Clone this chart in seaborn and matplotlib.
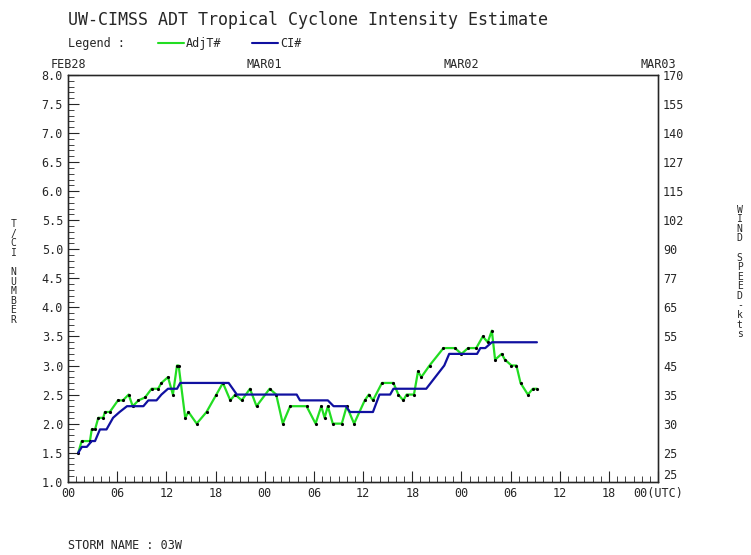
import matplotlib
matplotlib.use("Agg")
import matplotlib.pyplot as plt
import seaborn as sns
import pandas as pd
import numpy as np
from matplotlib.ticker import MultipleLocator

sns.set_style("white")
plt.rcParams['font.family'] = ['DejaVu Sans Mono']

adj_t = [1.26,1.67,2.68,2.9,3.3,3.7,4.3,4.5,5.1,6.1,6.7,7.4,7.9,8.6,9.4,10.2,11,11.4,12.2,12.8,13.3,13.5,14.3,14.7,15.7,16.9,18.1,18.9,19.8,20.4,21.2,22.2,23,24.6,25.4,26.2,27.1,29.1,30.2,30.9,31.3,31.7,32.3,33.4,34,34.9,36.2,36.7,37.2,38.3,39.7,40.3,40.9,41.3,42.2,42.7,43.1,44.1,45.8,47.2,48,48.8,49.8,50.6,51.2,51.7,52.1,52.9,53.3,54.1,54.7,55.2,56.1,56.7,57.2]
adj_v = [1.5,1.7,1.7,1.9,1.9,2.1,2.1,2.2,2.2,2.4,2.4,2.5,2.3,2.4,2.45,2.6,2.6,2.7,2.8,2.5,3.0,3.0,2.1,2.2,2.0,2.2,2.5,2.7,2.4,2.5,2.4,2.6,2.3,2.6,2.5,2.0,2.3,2.3,2.0,2.3,2.1,2.3,2.0,2.0,2.3,2.0,2.4,2.5,2.4,2.7,2.7,2.5,2.4,2.5,2.5,2.9,2.8,3.0,3.3,3.3,3.2,3.3,3.3,3.5,3.4,3.6,3.1,3.2,3.1,3.0,3.0,2.7,2.5,2.6,2.6]
ci_t = [1.26,1.7,2.3,2.9,3.3,3.9,4.7,5.5,6.3,7.2,9.2,9.8,10.8,11.4,12.2,13.3,13.7,19.6,20.6,27.9,28.3,31.7,32.4,33.9,34.4,37.2,38.0,39.3,39.7,43.7,45.9,46.5,49.9,50.3,50.9,51.7,57.2]
ci_v = [1.5,1.6,1.6,1.7,1.7,1.9,1.9,2.1,2.2,2.3,2.3,2.4,2.4,2.5,2.6,2.6,2.7,2.7,2.5,2.5,2.4,2.4,2.3,2.3,2.2,2.2,2.5,2.5,2.6,2.6,3.0,3.2,3.2,3.3,3.3,3.4,3.4]

y_ticks = [1.0,1.5,2.0,2.5,3.0,3.5,4.0,4.5,5.0,5.5,6.0,6.5,7.0,7.5,8.0]
kts_labels = ["25","25","30","35","45","55","65","77","90","102","115","127","140","155","170"]
x_ticks = list(range(0, 73, 6))
x_labels = ["00","06","12","18","00","06","12","18","00","06","12","18","00(UTC)"]
day_ticks = [0, 24, 48, 72]
day_labels = ["FEB28","MAR01","MAR02","MAR03"]

fig = plt.figure(figsize=(7.51, 5.55), dpi=100)
ax = fig.add_axes([0.0905, 0.132, 0.786, 0.733])
sns.lineplot(x=adj_t, y=adj_v, ax=ax, color="#22dd22", lw=1.6, sort=False,
             marker="o", markersize=1.5, markerfacecolor="black", markeredgecolor="black")
sns.lineplot(x=ci_t, y=ci_v, ax=ax, color="#1010a0", lw=1.6, sort=False)
ax.set_xlim(0, 72)
ax.set_ylim(1.0, 8.0)
ax.set_yticks(y_ticks)
ax.set_yticklabels([f"{v:.1f}" for v in y_ticks], fontsize=8.5)
ax.yaxis.set_minor_locator(MultipleLocator(0.1))
ax.set_xticks(x_ticks)
ax.set_xticklabels(x_labels, fontsize=8.5)
ax.xaxis.set_minor_locator(MultipleLocator(1))
ax.tick_params(which="both", direction="in", top=True, right=True, length=8)
ax.tick_params(which="minor", length=4)
for s in ax.spines.values():
    s.set_color("black"); s.set_linewidth(1)
ax2 = ax.twinx()
ax2.set_ylim(1.0, 8.0)
ax2.set_yticks(y_ticks)
ax2.set_yticklabels(kts_labels, fontsize=8.5)
ax2.tick_params(direction="in", length=0)
ax2.get_yticklabels()[0].set_va("bottom")
ax3 = ax.twiny()
ax3.set_xlim(0, 72)
ax3.set_xticks(day_ticks)
ax3.set_xticklabels(day_labels, fontsize=8.5)
ax3.tick_params(length=0, pad=3)

fig.text(0.018, 0.51, "\n".join("T/CI NUMBER"), fontsize=7, ha="center", va="center", linespacing=0.95)
fig.text(0.985, 0.51, "\n".join("WIND SPEED-kts"), fontsize=7, ha="center", va="center", linespacing=0.95)
fig.text(0.09, 0.955, "UW-CIMSS ADT Tropical Cyclone Intensity Estimate", fontsize=12)
fig.text(0.09, 0.915, "Legend :", fontsize=8.5)
fig.add_artist(plt.Line2D([0.21, 0.245], [0.922, 0.922], color="#22dd22", lw=1.5))
fig.text(0.248, 0.915, "AdjT#", fontsize=8.5)
fig.add_artist(plt.Line2D([0.335, 0.37], [0.922, 0.922], color="#1010a0", lw=1.5))
fig.text(0.373, 0.915, "CI#", fontsize=8.5)
fig.text(0.09, 0.01, "STORM NAME : 03W", fontsize=8.5)
fig.savefig("out.png", dpi=100)
